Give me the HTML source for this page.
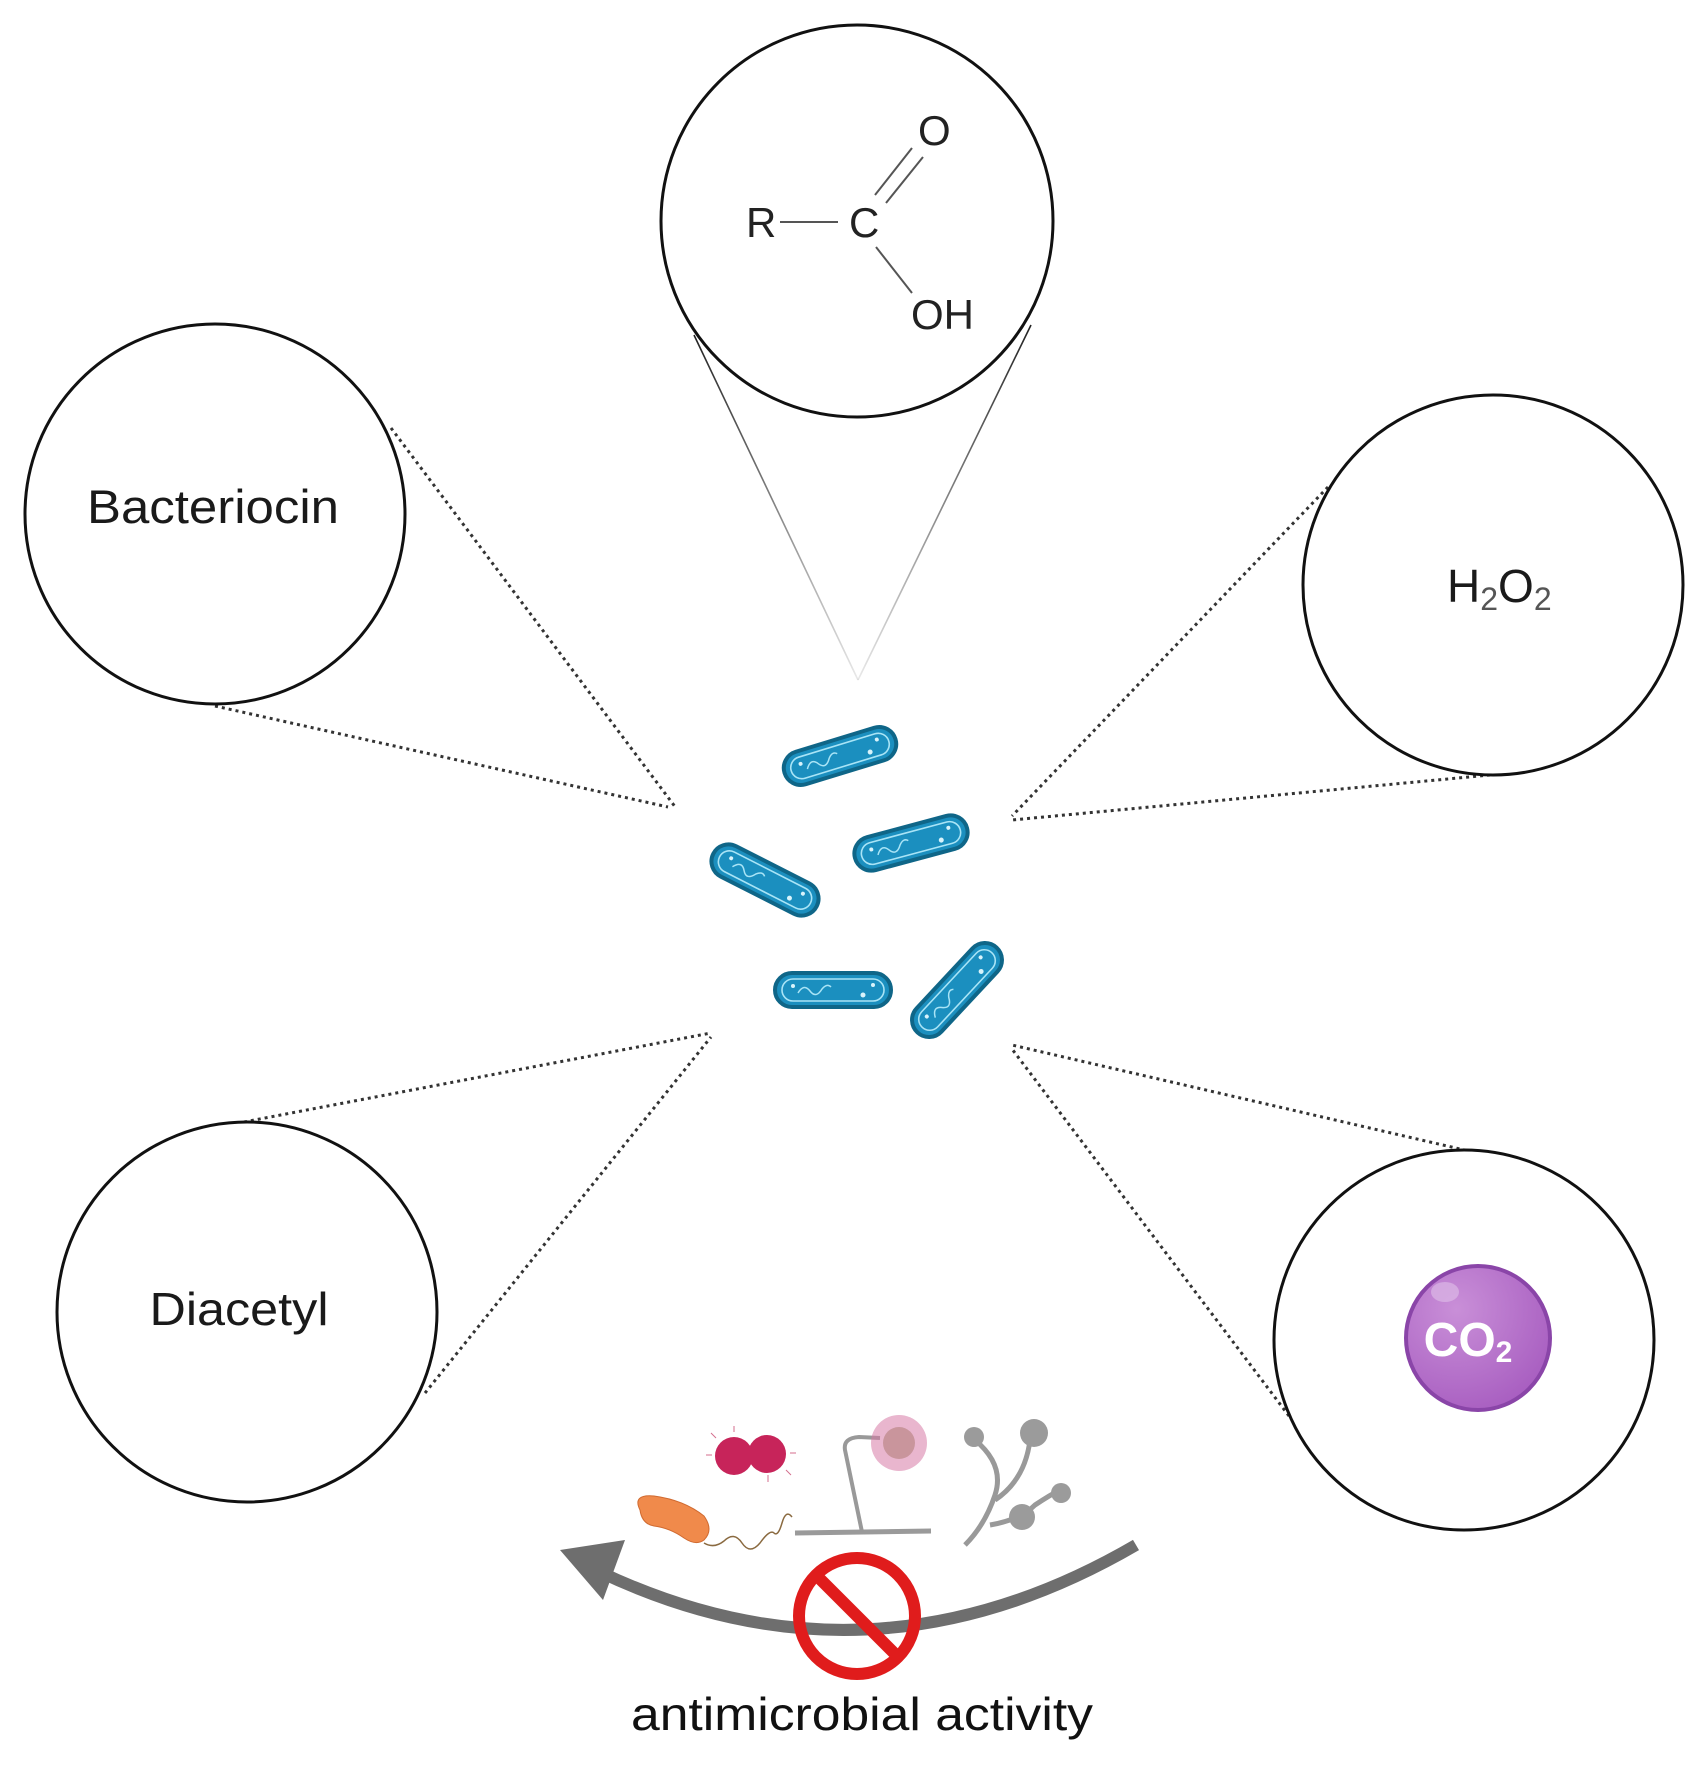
<!DOCTYPE html>
<html><head><meta charset="utf-8"><style>html,body{margin:0;padding:0;background:#fff}svg{display:block}</style></head>
<body>
<svg width="1706" height="1770" viewBox="0 0 1706 1770" xmlns="http://www.w3.org/2000/svg" font-family="Liberation Sans, sans-serif">
<defs>
<linearGradient id="fadeL" x1="0" y1="0" x2="0" y2="1"><stop offset="0" stop-color="#222"/><stop offset="1" stop-color="#222" stop-opacity="0.1"/></linearGradient>
<radialGradient id="co2g" cx="0.35" cy="0.3" r="0.8"><stop offset="0" stop-color="#c98fd8"/><stop offset="1" stop-color="#a65bbf"/></radialGradient>
<g id="bact">
<rect x="-58" y="-17" width="116" height="34" rx="17" fill="#1b8fbf" stroke="#0f6688" stroke-width="4"/>
<rect x="-51" y="-11" width="102" height="22" rx="11" fill="none" stroke="#a9e4f6" stroke-width="1.6"/>
<path d="M-35 3 q6 -10 12 -2 q6 8 12 -2 q5 -6 9 -2" fill="none" stroke="#a9e4f6" stroke-width="1.5"/>
<circle cx="-40" cy="-4" r="2" fill="#d8f3fb"/><circle cx="30" cy="5" r="2.5" fill="#d8f3fb"/><circle cx="40" cy="-5" r="2" fill="#d8f3fb"/>
</g>
</defs>

<!-- top solid connector lines -->
<line x1="694" y1="335" x2="858" y2="680" stroke="url(#fadeL)" stroke-width="1.6"/>
<line x1="1031" y1="325" x2="858" y2="680" stroke="url(#fadeL)" stroke-width="1.6"/>

<!-- dotted connectors -->
<g stroke="#333" stroke-width="3" stroke-dasharray="3,4" fill="none">
<line x1="391" y1="428" x2="676" y2="808"/>
<line x1="215" y1="706" x2="668" y2="807"/>
<line x1="1328" y1="487" x2="1012" y2="816"/>
<line x1="1490" y1="775" x2="1012" y2="820"/>
<line x1="244" y1="1122" x2="711" y2="1033"/>
<line x1="425" y1="1393" x2="711" y2="1037"/>
<line x1="1473" y1="1152" x2="1012" y2="1045"/>
<line x1="1289" y1="1416" x2="1012" y2="1049"/>
</g>

<!-- circles -->
<g fill="#fff" stroke="#111" stroke-width="3">
<circle cx="857" cy="221" r="196"/>
<circle cx="215" cy="514" r="190"/>
<circle cx="1493" cy="585" r="190"/>
<circle cx="247" cy="1312" r="190"/>
<circle cx="1464" cy="1340" r="190"/>
</g>

<!-- chemistry -->
<g fill="#222" font-size="42">
<text x="746" y="237">R</text>
<text x="849" y="237">C</text>
<text x="918" y="145">O</text>
<text x="911" y="329">OH</text>
</g>
<g stroke="#555" stroke-width="2">
<line x1="780" y1="222" x2="838" y2="222"/>
<line x1="875" y1="195" x2="912" y2="148"/>
<line x1="886" y1="203" x2="923" y2="157"/>
<line x1="876" y1="247" x2="912" y2="293"/>
</g>

<!-- labels -->
<text x="213" y="523" font-size="47" text-anchor="middle" fill="#1a1a1a" textLength="252" lengthAdjust="spacingAndGlyphs">Bacteriocin</text>
<text x="1447" y="602" font-size="46" fill="#1a1a1a">H<tspan font-size="32" dy="8" fill="#555">2</tspan><tspan dy="-8">O</tspan><tspan font-size="32" dy="8" fill="#555">2</tspan></text>
<text x="239" y="1325" font-size="46" text-anchor="middle" fill="#1a1a1a" textLength="179" lengthAdjust="spacingAndGlyphs">Diacetyl</text>

<!-- CO2 sphere -->
<circle cx="1478" cy="1338" r="72" fill="url(#co2g)" stroke="#8a45a8" stroke-width="4"/>
<ellipse cx="1445" cy="1292" rx="14" ry="10" fill="#dcb8e6" opacity="0.7"/>
<text x="1468" y="1356" font-size="48" font-weight="bold" fill="#fff" text-anchor="middle">CO<tspan font-size="30" dy="6">2</tspan></text>

<!-- bacteria -->
<use href="#bact" transform="translate(840,756) rotate(-17)"/>
<use href="#bact" transform="translate(765,880) rotate(27)"/>
<use href="#bact" transform="translate(911,843) rotate(-15)"/>
<use href="#bact" transform="translate(833,990)"/>
<use href="#bact" transform="translate(957,990) rotate(-47)"/>

<!-- microbes -->
<g stroke="#c2325e" stroke-width="1" opacity="0.7">
<line x1="734" y1="1432" x2="734" y2="1426"/><line x1="712" y1="1455" x2="706" y2="1455"/><line x1="790" y1="1453" x2="796" y2="1453"/><line x1="768" y1="1475" x2="768" y2="1482"/><line x1="716" y1="1438" x2="711" y2="1433"/><line x1="786" y1="1470" x2="791" y2="1475"/>
</g>
<circle cx="734" cy="1456" r="19" fill="#c7245a"/>
<circle cx="767" cy="1454" r="19" fill="#c7245a"/>
<path d="M640 1510 q-8 -16 14 -14 q30 4 50 20 q10 14 0 24 q-8 6 -20 -2 q-14 -10 -30 -12 q-12 -2 -14 -16z" fill="#f08a4b" stroke="#d06a30" stroke-width="1"/>
<path d="M704 1543 q10 6 20 -2 q10 -10 18 2 q8 12 18 0 q10 -14 14 -10 q4 4 8 -10 q4 -14 10 -6" fill="none" stroke="#8a6a40" stroke-width="1.5"/>
<line x1="795" y1="1533" x2="931" y2="1531" stroke="#9a9a9a" stroke-width="5"/>
<path d="M862 1532 L845 1450 q-2 -12 14 -13 L880 1438" fill="none" stroke="#999" stroke-width="4"/>
<circle cx="899" cy="1443" r="28" fill="#d77aa6" opacity="0.55"/>
<circle cx="899" cy="1443" r="16" fill="#b88" opacity="0.7"/>
<g stroke="#999" stroke-width="5" fill="none">
<path d="M965 1545 q20 -20 30 -50 q10 -30 -20 -55"/>
<path d="M995 1500 q30 -20 35 -60"/>
<path d="M990 1525 q30 -5 45 -20 q15 -10 25 -15"/>
</g>
<circle cx="1034" cy="1433" r="14" fill="#9b9b9b"/>
<circle cx="974" cy="1437" r="10" fill="#9b9b9b"/>
<circle cx="1061" cy="1493" r="10" fill="#9b9b9b"/>
<circle cx="1022" cy="1517" r="13" fill="#9b9b9b"/>

<!-- arc arrow -->
<path d="M1136 1545 Q870 1700 600 1572" fill="none" stroke="#6e6e6e" stroke-width="12"/>
<polygon points="560,1550 625,1540 603,1600" fill="#6e6e6e"/>

<!-- no sign -->
<circle cx="857" cy="1616" r="58" fill="none" stroke="#e01c1c" stroke-width="12"/>
<line x1="817" y1="1576" x2="897" y2="1656" stroke="#e01c1c" stroke-width="12"/>

<text x="862" y="1730" font-size="46" text-anchor="middle" fill="#111" textLength="462" lengthAdjust="spacingAndGlyphs">antimicrobial activity</text>
</svg>
</body></html>
